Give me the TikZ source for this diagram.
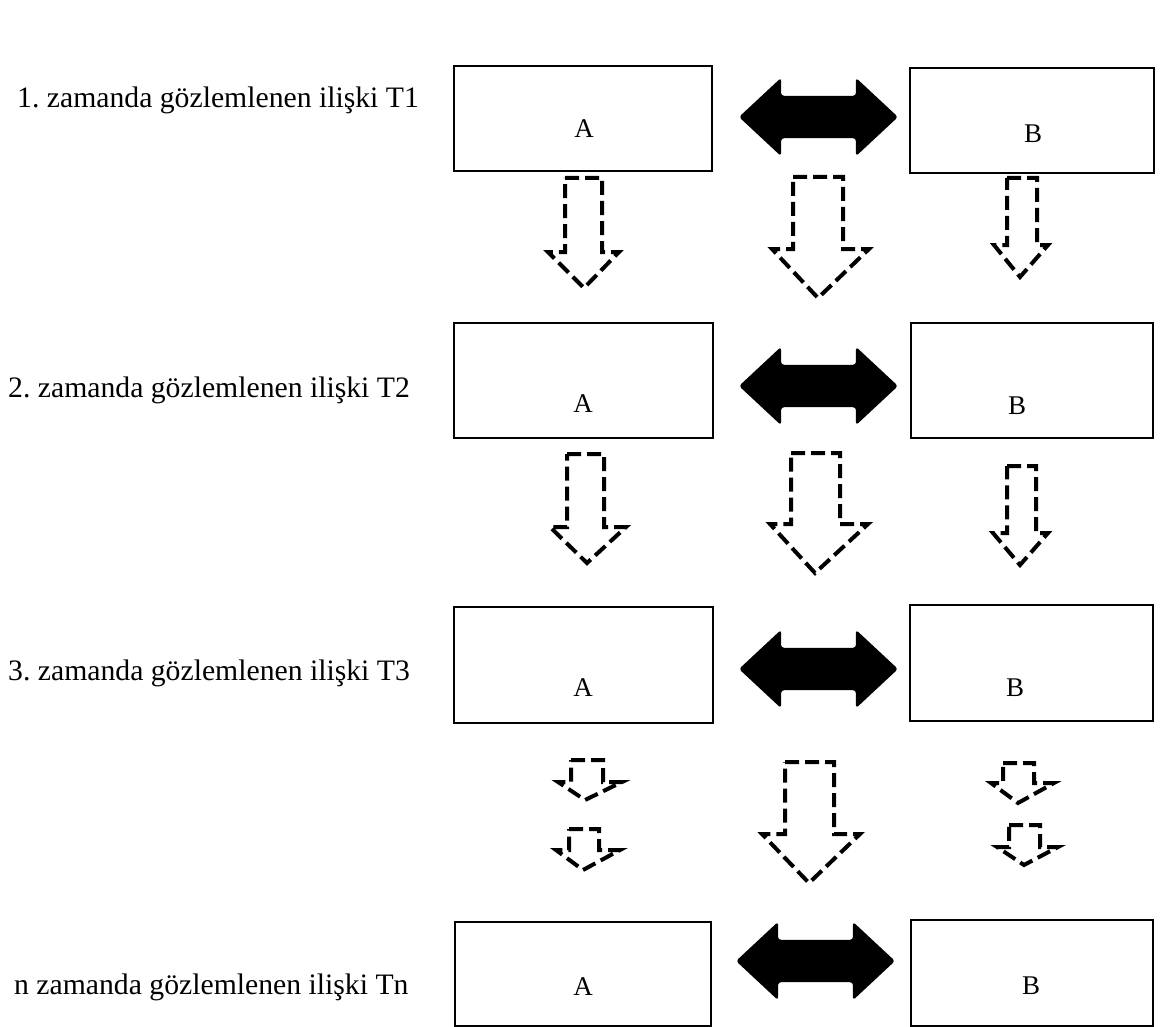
\documentclass[tikz,border=0pt]{standalone}
\usepackage{fontspec}
\setmainfont{Liberation Serif}
\usetikzlibrary{shapes.arrows}
\frenchspacing

% one dashed block arrow pointing down:
% #1,#2 shaft sides, #3 top, #4 head line, #5,#6 head sides, #7,#8 tip
\newcommand{\dnarrow}[8]{%
  \draw[dasharrow] (#1,#3) -- (#2,#3) -- (#2,#4) -- (#6,#4) -- (#7,#8)
    -- (#5,#4) -- (#1,#4) -- cycle;}

\begin{document}
\begin{tikzpicture}[x=1pt, y=-1pt,
      box/.style={draw, line width=1.8pt, inner sep=0pt},
      letter/.style={anchor=base, font=\fontsize{27}{32}\selectfont},
      rowlabel/.style={anchor=base west, inner sep=0pt, font=\fontsize{29.7}{35}\selectfont},
      dblarrow/.style={double arrow, fill=black, rounded corners=3pt,
        minimum height=159pt, minimum width=78pt, inner xsep=0pt, inner ysep=21pt,
        double arrow head extend=18pt, double arrow tip angle=86},
      dasharrow/.style={line width=4pt, dash pattern=on 14pt off 6pt, fill=white}]
      \useasboundingbox (0,0) rectangle (1164,1027);

      % Define nodes
      \node[box, minimum width=258pt, minimum height=105pt] (a1) at (583,118.5) {};
      \node[box, minimum width=244pt, minimum height=105pt] (b1) at (1032,120.5) {};
      \node[box, minimum width=259pt, minimum height=115pt] (a2) at (583.5,380.5) {};
      \node[box, minimum width=242pt, minimum height=115pt] (b2) at (1032,380.5) {};
      \node[box, minimum width=259pt, minimum height=116pt] (a3) at (583.5,665) {};
      \node[box, minimum width=243pt, minimum height=116pt] (b3) at (1031.5,663) {};
      \node[box, minimum width=256pt, minimum height=104pt] (an) at (583,974) {};
      \node[box, minimum width=242pt, minimum height=106pt] (bn) at (1032,973) {};

      % Letters in the boxes
      \node[letter] (ta1) at (584,138) {A};
      \node[letter] (tb1) at (1033,143) {B};
      \node[letter] (ta2) at (583,412) {A};
      \node[letter] (tb2) at (1017,414) {B};
      \node[letter] (ta3) at (583,696) {A};
      \node[letter] (tb3) at (1015,696) {B};
      \node[letter] (tan) at (583,995) {A};
      \node[letter] (tbn) at (1031,994) {B};

      % Row labels
      \node[rowlabel] (l1) at (17,108) {1. zamanda gözlemlenen ilişki T1};
      \node[rowlabel] (l2) at (8,397) {2. zamanda gözlemlenen ilişki T2};
      \node[rowlabel] (l3) at (8,680) {3. zamanda gözlemlenen ilişki T3};
      \node[rowlabel] (ln) at (14,994) {n zamanda gözlemlenen ilişki Tn};

      % Relation between A and B at each time
      \node[dblarrow] (r1) at (818.5,117) {};
      \node[dblarrow] (r2) at (818.5,386) {};
      \node[dblarrow] (r3) at (818.5,669) {};
      \node[dblarrow] (rn) at (815.5,961) {};

      % Change from one time to the next
      \dnarrow{565}{602}{178}{252}{548}{619}{584}{288}
      \dnarrow{793}{843}{177}{249}{772}{869}{818}{298}
      \dnarrow{1007}{1037}{178}{245}{994}{1048}{1020}{277}

      \dnarrow{567}{604}{454}{527}{550}{626}{587}{563}
      \dnarrow{791}{840}{453}{524}{770}{868}{815}{573}
      \dnarrow{1007}{1036}{466}{533}{993}{1048}{1020}{565}

      \dnarrow{571}{603}{760}{782}{558}{622}{585}{800}
      \dnarrow{569}{599}{829}{850}{556}{620}{583}{870}
      \dnarrow{785}{834}{762}{834}{762}{860}{809}{883}
      \dnarrow{1003}{1034}{763}{783}{991}{1054}{1018}{803}
      \dnarrow{1009}{1040}{825}{847}{997}{1058}{1024}{865}
    \end{tikzpicture}
\end{document}
